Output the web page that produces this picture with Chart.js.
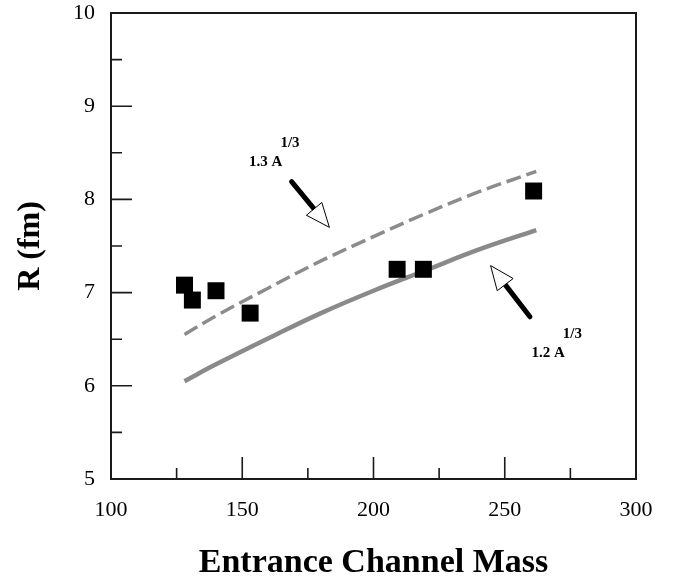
<!DOCTYPE html>
<html>
<head>
<meta charset="utf-8">
<script src="https://cdn.jsdelivr.net/npm/chart.js@4/dist/chart.umd.min.js"></script>
<style>
  html, body { margin: 0; padding: 0; background: #fff; }
  #wrap { width: 673px; height: 584px; }
</style>
</head>
<body>
<div id="wrap"><canvas id="radiusChart"></canvas></div>
<script>
// measured interaction radii vs. entrance channel mass
var massData = [128, 131, 140, 153, 209, 219, 261];
var radiusData = [7.08, 6.92, 7.02, 6.78, 7.25, 7.25, 8.09];

// r0 A^(1/3) reference curves
var curveMass = [128, 140, 160, 180, 200, 220, 240, 262];
var curveR12 = [6.05, 6.23, 6.51, 6.78, 7.02, 7.24, 7.46, 7.67];
var curveR13 = [6.55, 6.75, 7.05, 7.34, 7.60, 7.85, 8.08, 8.30];

var xTicks = [100, 150, 200, 250, 300];
var yTicks = [5, 6, 7, 8, 9, 10];

function toPoints(xs, ys) {
  return xs.map(function (x, i) { return { x: x, y: ys[i] }; });
}

var serif = '"Liberation Serif", "Times New Roman", serif';

// inward tick marks, top/right frame, arrows and curve labels
var framePlugin = {
  id: 'frame',
  afterDraw: function (chart) {
    var ctx = chart.ctx;
    var xs = chart.scales.x, ys = chart.scales.y;
    var a = chart.chartArea;
    ctx.save();
    ctx.strokeStyle = '#1a1a1a';
    ctx.lineWidth = 2;
    ctx.beginPath();
    ctx.moveTo(a.left, a.top);
    ctx.lineTo(a.right, a.top);
    ctx.lineTo(a.right, a.bottom);
    ctx.stroke();

    ctx.lineWidth = 1.6;
    ctx.beginPath();
    for (var v = 5; v <= 10; v += 0.5) {
      var py = ys.getPixelForValue(v);
      var len = (v % 1 === 0) ? 21 : 11;
      if (v === 5 || v === 10) continue;
      ctx.moveTo(a.left, py);
      ctx.lineTo(a.left + len, py);
    }
    for (var m = 125; m < 300; m += 25) {
      var px = xs.getPixelForValue(m);
      var l = (m % 50 === 0) ? 22 : 11;
      ctx.moveTo(px, a.bottom);
      ctx.lineTo(px, a.bottom - l);
    }
    ctx.stroke();

    function arrow(x0, y0, x1, y1) {
      var p0x = xs.getPixelForValue(x0), p0y = ys.getPixelForValue(y0);
      var p1x = xs.getPixelForValue(x1), p1y = ys.getPixelForValue(y1);
      var ang = Math.atan2(p1y - p0y, p1x - p0x);
      var headLen = 24, half = 10;
      var bx = p1x - headLen * Math.cos(ang), by = p1y - headLen * Math.sin(ang);
      ctx.strokeStyle = '#000';
      ctx.lineWidth = 5;
      ctx.lineCap = 'round';
      ctx.beginPath();
      ctx.moveTo(p0x, p0y);
      ctx.lineTo(bx, by);
      ctx.stroke();
      ctx.lineCap = 'butt';
      ctx.lineWidth = 1;
      ctx.fillStyle = '#fff';
      ctx.beginPath();
      ctx.moveTo(p1x, p1y);
      ctx.lineTo(bx + half * Math.sin(ang), by - half * Math.cos(ang));
      ctx.lineTo(bx - half * Math.sin(ang), by + half * Math.cos(ang));
      ctx.closePath();
      ctx.fill();
      ctx.stroke();
    }
    arrow(168.8, 8.19, 183.2, 7.70);
    arrow(259.6, 6.74, 244.6, 7.29);

    function label(x, y, main, sup) {
      var px = xs.getPixelForValue(x), py = ys.getPixelForValue(y);
      ctx.fillStyle = '#000';
      ctx.font = 'bold 15px ' + serif;
      ctx.textBaseline = 'alphabetic';
      ctx.textAlign = 'left';
      ctx.fillText(main, px, py);
      var w = ctx.measureText(main).width;
      ctx.fillText(sup, px + w - 2, py - 19);
    }
    label(152.6, 8.36, '1.3 A', '1/3');
    label(260.2, 6.31, '1.2 A', '1/3');
    ctx.restore();
  }
};

var chart = new Chart(document.getElementById('radiusChart'), {
  type: 'scatter',
  data: {
    datasets: [{
      label: 'data',
      data: toPoints(massData, radiusData),
      pointStyle: 'rect',
      pointRadius: 12,
      pointBackgroundColor: '#000',
      pointBorderColor: '#000',
      pointBorderWidth: 0,
      order: 0
    }, {
      label: '1.3 A^1/3',
      data: toPoints(curveMass, curveR13),
      showLine: true,
      pointRadius: 0,
      borderColor: '#8c8c8c',
      borderWidth: 3.5,
      borderDash: [15, 6],
      tension: 0.4,
      order: 1
    }, {
      label: '1.2 A^1/3',
      data: toPoints(curveMass, curveR12),
      showLine: true,
      pointRadius: 0,
      borderColor: '#8a8a8a',
      borderWidth: 4.5,
      tension: 0.4,
      order: 2
    }]
  },
  options: {
    responsive: true,
    maintainAspectRatio: false,
    animation: false,
    events: [],
    layout: { padding: { top: 13, right: 37, left: 0, bottom: 0 } },
    plugins: { legend: { display: false }, tooltip: { enabled: false } },
    scales: {
      x: {
        type: 'linear',
        min: 100, max: 300,
        afterBuildTicks: function (s) { s.ticks = xTicks.map(function (v) { return { value: v }; }); },
        afterFit: function (s) { s.height = 105; s.paddingLeft = 0; s.paddingRight = 0; },
        grid: { display: false, drawTicks: false },
        border: { display: true, color: '#1a1a1a', width: 2 },
        ticks: { color: '#000', padding: 18, maxRotation: 0, font: { family: serif, size: 22 } },
        title: {
          display: true,
          text: 'Entrance Channel Mass',
          color: '#000',
          padding: { top: 0, bottom: 0 },
          font: { family: serif, size: 34, weight: 'bold' }
        }
      },
      y: {
        type: 'linear',
        min: 5, max: 10,
        afterBuildTicks: function (s) { s.ticks = yTicks.map(function (v) { return { value: v }; }); },
        afterFit: function (s) { s.width = 111; s.paddingTop = 0; s.paddingBottom = 0; },
        grid: { display: false, drawTicks: false },
        border: { display: true, color: '#1a1a1a', width: 2 },
        ticks: { color: '#000', padding: 16, font: { family: serif, size: 22 } },
        title: {
          display: true,
          text: 'R (fm)',
          color: '#000',
          padding: { top: 12, bottom: 0 },
          font: { family: serif, size: 32, weight: 'bold' }
        }
      }
    }
  },
  plugins: [framePlugin]
});
</script>
</body>
</html>
